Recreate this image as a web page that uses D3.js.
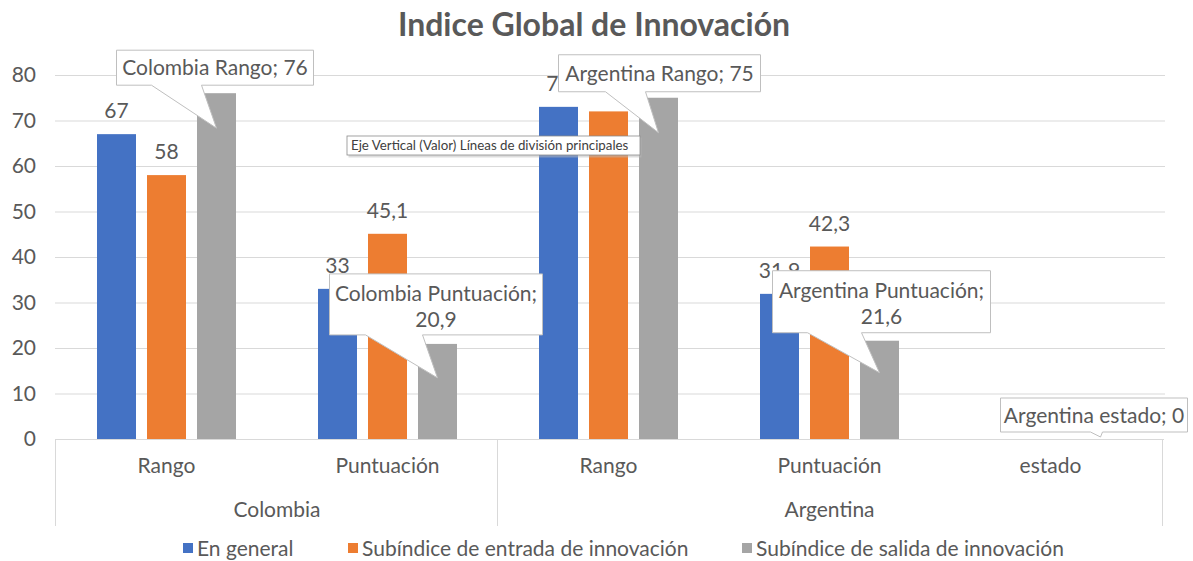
<!DOCTYPE html>
<meta charset="utf-8">
<style>
body { margin: 0; background: #fff; }
text { font-family: Lato, "Open Sans", sans-serif; fill: #595959; }
.grid line { stroke: #d9d9d9; stroke-width: 1px; }
.callout { fill: #fff; stroke: #bfbfbf; stroke-width: 1px; }
</style>
<body>
<script src="https://d3js.org/d3.v7.min.js"></script>
<script>

// chart data
var categories = ["Rango", "Puntuación", "Rango", "Puntuación", "estado"];
var countries = ["Colombia", "Colombia", "Argentina", "Argentina", "Argentina"];
var seriesNames = ["En general", "Subíndice de entrada de innovación", "Subíndice de salida de innovación"];
var enGeneral = [67, 33, 73, 31.9, null];
var entrada = [58, 45.1, 72, 42.3, null];
var salida = [76, 20.9, 75, 21.6, 0];
var yTicks = [0, 10, 20, 30, 40, 50, 60, 70, 80];
var colors = ["#4472C4", "#ED7D31", "#A5A5A5"];

var values = [enGeneral, entrada, salida];

var W = 1193, H = 561;
var plotL = 56, plotR = 1161, plotT = 75, plotB = 439;
var fs = "21px";

var svg = d3.select("body").append("svg")
    .attr("width", W)
    .attr("height", H);

// scales
var x0 = d3.scaleBand()
    .domain(d3.range(categories.length))
    .range([plotL, plotR]);
var bw = x0.bandwidth();
var x1 = d3.scaleBand()
    .domain(d3.range(seriesNames.length))
    .range([bw / 2 - 75, bw / 2 + 75])
    .paddingInner(0.22)
    .paddingOuter(0.11);
var y = d3.scaleLinear().domain([0, 80]).range([plotB, plotT]);

var fmt = function(v) { return String(v).replace(".", ","); };

// title
svg.append("text")
    .attr("x", 594)
    .attr("y", 36)
    .attr("text-anchor", "middle")
    .style("font-size", "32px")
    .style("font-weight", "bold")
    .text("Indice Global de Innovación");

// gridlines
svg.append("g")
    .attr("class", "grid")
    .selectAll("line")
    .data(yTicks.filter(function(d) { return d > 0; }))
  .enter().append("line")
    .attr("x1", plotL - 1)
    .attr("x2", plotR + 4)
    .attr("y1", function(d) { return y(d) + 0.5; })
    .attr("y2", function(d) { return y(d) + 0.5; });

// y axis labels
var yAxis = svg.append("g")
    .attr("transform", "translate(" + (plotL - 20) + ",0)")
    .call(d3.axisLeft(y).tickValues(yTicks).tickSize(0).tickPadding(0));
yAxis.select(".domain").remove();
yAxis.selectAll("text")
    .style("font-size", fs)
    .style("font-family", "Lato")
    .attr("fill", "#595959");

// bars
values.forEach(function(vals, s) {
  svg.append("g")
    .selectAll("rect")
    .data(vals.map(function(v, i) { return {v: v, i: i}; }).filter(function(d) { return d.v !== null; }))
  .enter().append("rect")
    .attr("x", function(d) { return x0(d.i) + x1(s); })
    .attr("width", x1.bandwidth())
    .attr("y", function(d) { return y(d.v); })
    .attr("height", function(d) { return y(0) - y(d.v); })
    .attr("fill", colors[s]);
});

// x axis line and category separators
svg.append("line")
    .attr("x1", plotL - 1).attr("x2", plotR + 3)
    .attr("y1", plotB + 0.5).attr("y2", plotB + 0.5)
    .attr("stroke", "#d9d9d9");
[0, 2, 5].forEach(function(i) {
  var xx = i < 5 ? x0(i) : plotR + 2;
  svg.append("line")
    .attr("x1", xx - 0.5).attr("x2", xx - 0.5)
    .attr("y1", plotB).attr("y2", 526)
    .attr("stroke", "#d9d9d9");
});

svg.append("g").selectAll("text")
    .data(categories)
  .enter().append("text")
    .attr("x", function(d, i) { return x0(i) + bw / 2; })
    .attr("y", 473)
    .attr("text-anchor", "middle")
    .style("font-size", fs)
    .text(function(d) { return d; });

var countryNames = ["Colombia", "Argentina"];
svg.append("g").selectAll("text")
    .data(countryNames)
  .enter().append("text")
    .attr("x", function(c) {
      var idx = d3.range(categories.length).filter(function(i) { return countries[i] === c; });
      return (x0(idx[0]) + x0(idx[idx.length - 1]) + bw) / 2;
    })
    .attr("y", 517)
    .attr("text-anchor", "middle")
    .style("font-size", fs)
    .text(function(d) { return d; });

// plain data labels (series 0 and 1); series 2 uses callouts
var hidden = {"1-2": true};
[0, 1].forEach(function(s) {
  svg.append("g").selectAll("text")
    .data(values[s].map(function(v, i) { return {v: v, i: i}; })
      .filter(function(d) { return d.v !== null && !hidden[s + "-" + d.i]; }))
  .enter().append("text")
    .attr("x", function(d) { return x0(d.i) + x1(s) + x1.bandwidth() / 2; })
    .attr("y", function(d) { return y(d.v) - 16; })
    .attr("text-anchor", "middle")
    .style("font-size", fs)
    .text(function(d) { return fmt(d.v); });
});

// callouts on gray series: tip offset and box relative to tip
var callouts = [
  {i: 0, dy: 35, bx: -100, by: -78, bw: 197, bh: 35, w0: -65, w1: -15, lines: 1},
  {i: 2, dy: 35, bx: -100, by: -78, bw: 202, bh: 37, w0: -53, w1: -13, lines: 1},
  {i: 1, dy: 34, bx: -108, by: -104, bw: 213, bh: 61, w0: -72, w1: -15, lines: 2},
  {i: 3, dy: 32, bx: -107, by: -102, bw: 218, bh: 62, w0: -72, w1: -18, lines: 2},
  {i: 4, dy: -2, bx: -100, by: -39, bw: 187, bh: 34, w0: -10, w1: 2, lines: 1}
];
callouts.forEach(function(c) {
  var v = salida[c.i];
  var tx = x0(c.i) + x1(2) + x1.bandwidth() / 2;
  var ty = y(v) + c.dy;
  var L = tx + c.bx, T = ty + c.by, R = L + c.bw, B = T + c.bh;
  var p = d3.path();
  p.moveTo(L, T); p.lineTo(R, T); p.lineTo(R, B);
  p.lineTo(tx + c.w1, B); p.lineTo(tx, ty); p.lineTo(tx + c.w0, B);
  p.lineTo(L, B); p.closePath();
  var g = svg.append("g");
  g.append("path").attr("class", "callout").attr("d", p.toString());
  var label = countries[c.i] + " " + categories[c.i] + ";";
  if (c.lines === 1) {
    g.append("text")
      .attr("x", (L + R) / 2).attr("y", (T + B) / 2 + 7.5)
      .attr("text-anchor", "middle")
      .style("font-size", fs)
      .text(label + " " + fmt(v));
  } else {
    g.append("text")
      .attr("x", (L + R) / 2).attr("y", T + 27)
      .attr("text-anchor", "middle")
      .style("font-size", fs)
      .text(label);
    g.append("text")
      .attr("x", (L + R) / 2).attr("y", T + 53)
      .attr("text-anchor", "middle")
      .style("font-size", fs)
      .text(fmt(v));
  }
});

// tooltip from the original screenshot
var tip = svg.append("g").attr("transform", "translate(347,136)");
tip.append("rect")
    .attr("x", 1.5).attr("y", 1.5).attr("width", 293).attr("height", 20)
    .attr("fill", "#bbb").attr("opacity", 0.5);
tip.append("rect")
    .attr("x", 0).attr("y", 0).attr("width", 293).attr("height", 19)
    .attr("fill", "#fff").attr("stroke", "#8c8c8c").attr("stroke-width", 0.8);
tip.append("text")
    .attr("x", 4).attr("y", 14)
    .style("font-size", "13.3px")
    .style("fill", "#404040")
    .text("Eje Vertical (Valor)  Líneas de división principales");

// legend
var legendX = [183, 348, 742];
var lg = svg.append("g").selectAll("g")
    .data(seriesNames)
  .enter().append("g")
    .attr("transform", function(d, i) { return "translate(" + legendX[i] + ",543)"; });
lg.append("rect")
    .attr("width", 10).attr("height", 10)
    .attr("fill", function(d, i) { return colors[i]; });
lg.append("text")
    .attr("x", 14).attr("y", 13)
    .style("font-size", fs)
    .text(function(d) { return d; });

</script>
</body>
